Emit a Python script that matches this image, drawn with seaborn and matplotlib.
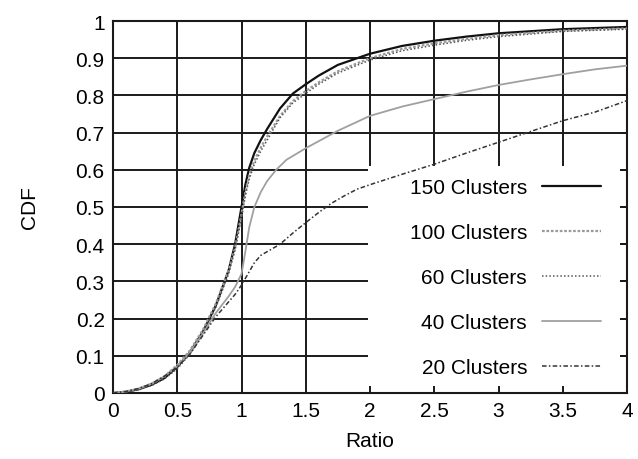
import numpy as np
import pandas as pd
import matplotlib
matplotlib.use("Agg")
import matplotlib.pyplot as plt
from matplotlib.patches import Rectangle
import seaborn as sns

# CDF curves of the ratio for different cluster counts
ratio_150 = [0, 0.1, 0.2, 0.3, 0.4, 0.5, 0.6, 0.7, 0.8, 0.9, 0.95, 1.0, 1.03, 1.06, 1.1, 1.15, 1.2, 1.3, 1.4, 1.5, 1.6, 1.75, 2.0, 2.25, 2.5, 2.75, 3.0, 3.5, 4.0]
cdf_150 = [0, 0.003, 0.01, 0.022, 0.04, 0.07, 0.11, 0.165, 0.235, 0.33, 0.40, 0.50, 0.56, 0.605, 0.645, 0.68, 0.71, 0.765, 0.805, 0.83, 0.853, 0.882, 0.912, 0.933, 0.947, 0.958, 0.967, 0.978, 0.984]

ratio_100 = [0, 0.1, 0.2, 0.3, 0.4, 0.5, 0.6, 0.7, 0.8, 0.9, 0.95, 1.0, 1.03, 1.06, 1.1, 1.15, 1.2, 1.3, 1.4, 1.5, 1.6, 1.75, 2.0, 2.25, 2.5, 2.75, 3.0, 3.5, 4.0]
cdf_100 = [0, 0.004, 0.012, 0.025, 0.045, 0.075, 0.115, 0.17, 0.24, 0.33, 0.39, 0.48, 0.54, 0.585, 0.625, 0.66, 0.69, 0.745, 0.785, 0.812, 0.835, 0.865, 0.90, 0.925, 0.94, 0.952, 0.962, 0.974, 0.98]

ratio_60 = [0, 0.1, 0.2, 0.3, 0.4, 0.5, 0.6, 0.7, 0.8, 0.9, 0.95, 1.0, 1.03, 1.06, 1.1, 1.15, 1.2, 1.3, 1.4, 1.5, 1.6, 1.75, 2.0, 2.25, 2.5, 2.75, 3.0, 3.5, 4.0]
cdf_60 = [0, 0.003, 0.01, 0.02, 0.038, 0.065, 0.105, 0.16, 0.23, 0.32, 0.385, 0.47, 0.53, 0.575, 0.615, 0.65, 0.68, 0.74, 0.78, 0.805, 0.83, 0.86, 0.895, 0.92, 0.935, 0.948, 0.958, 0.972, 0.978]

ratio_40 = [0, 0.1, 0.2, 0.3, 0.4, 0.5, 0.6, 0.7, 0.8, 0.9, 0.95, 1.0, 1.03, 1.06, 1.1, 1.15, 1.2, 1.27, 1.35, 1.5, 1.75, 2.0, 2.25, 2.5, 2.75, 3.0, 3.25, 3.5, 3.75, 4.0]
cdf_40 = [0, 0.004, 0.012, 0.025, 0.045, 0.072, 0.11, 0.16, 0.215, 0.26, 0.285, 0.32, 0.38, 0.445, 0.50, 0.54, 0.57, 0.60, 0.627, 0.658, 0.705, 0.745, 0.77, 0.79, 0.81, 0.828, 0.843, 0.857, 0.87, 0.88]

ratio_20 = [0, 0.1, 0.2, 0.3, 0.4, 0.5, 0.6, 0.7, 0.8, 0.9, 0.95, 1.0, 1.05, 1.1, 1.15, 1.25, 1.3, 1.4, 1.5, 1.6, 1.7, 1.8, 1.9, 2.0, 2.25, 2.5, 2.75, 3.0, 3.25, 3.5, 3.75, 4.0]
cdf_20 = [0, 0.004, 0.012, 0.025, 0.045, 0.07, 0.105, 0.155, 0.205, 0.245, 0.265, 0.29, 0.32, 0.35, 0.37, 0.39, 0.40, 0.43, 0.458, 0.485, 0.51, 0.53, 0.548, 0.56, 0.588, 0.615, 0.645, 0.674, 0.703, 0.732, 0.755, 0.786]

series_labels = ["150 Clusters", "100 Clusters", "60 Clusters", "40 Clusters", "20 Clusters"]
x_ticks = [0, 0.5, 1, 1.5, 2, 2.5, 3, 3.5, 4]
x_tick_labels = ["0", "0.5", "1", "1.5", "2", "2.5", "3", "3.5", "4"]
y_ticks = [0, 0.1, 0.2, 0.3, 0.4, 0.5, 0.6, 0.7, 0.8, 0.9, 1.0]
y_tick_labels = ["0", "0.1", "0.2", "0.3", "0.4", "0.5", "0.6", "0.7", "0.8", "0.9", "1"]

styles = {
    "150 Clusters": dict(color="#111111", linestyle="-", lw=1.6),
    "100 Clusters": dict(color="#9a9a9a", linestyle=(0, (1.2, 0.8)), lw=1.6),
    "60 Clusters": dict(color="#555555", linestyle=(0, (1, 1.4)), lw=1.1),
    "40 Clusters": dict(color="#a0a0a0", linestyle="-", lw=1.3),
    "20 Clusters": dict(color="#333333", linestyle=(0, (3, 1.5, 1, 1.5)), lw=1.1),
}

frames = []
for lab, xs, ys in zip(series_labels,
                       [ratio_150, ratio_100, ratio_60, ratio_40, ratio_20],
                       [cdf_150, cdf_100, cdf_60, cdf_40, cdf_20]):
    frames.append(pd.DataFrame({"Ratio": xs, "CDF": ys, "series": lab}))
df = pd.concat(frames, ignore_index=True)

sns.set_style("white")
plt.rcParams["font.family"] = ["Liberation Sans", "DejaVu Sans"]

fig = plt.figure(figsize=(6.38, 4.60), dpi=100)
ax = fig.add_axes([113 / 638, 66 / 460, 514 / 638, 372 / 460])

for lab in series_labels:
    sub = df[df["series"] == lab]
    sns.lineplot(data=sub, x="Ratio", y="CDF", ax=ax, label=lab,
                 estimator=None, sort=False, zorder=3, **styles[lab])

ax.set_xlim(0, 4)
ax.set_ylim(0, 1)
ax.set_xticks(x_ticks)
ax.set_xticklabels(x_tick_labels)
ax.set_yticks(y_ticks)
ax.set_yticklabels(y_tick_labels)

ax.set_axisbelow(True)
ax.grid(True, color="#1a1a1a", lw=1.4)
ax.tick_params(direction="in", length=5, width=1.4, colors="#1a1a1a",
               top=True, right=True, labelsize=15, labelcolor="black", pad=6)
for s in ax.spines.values():
    s.set_visible(True)
    s.set_color("#1a1a1a")
    s.set_linewidth(1.5)

# opaque key area in the lower right, leaving the tick stubs visible
tick_dx = 7 / 128.5
tick_dy = 7 / 372
ax.add_patch(Rectangle((1.985, tick_dy), 4 - tick_dx - 1.985, 0.61 - tick_dy,
                       facecolor="white", edgecolor="none", zorder=1))

ax.set_xlabel("Ratio", fontsize=15, labelpad=8, color="black")
ax.set_ylabel("CDF", fontsize=15, labelpad=26, color="black")

leg = ax.legend(loc="lower right", bbox_to_anchor=((601 - 113) / 514, (394 - 378) / 372),
                frameon=False, markerfirst=False, fontsize=15, borderpad=0,
                borderaxespad=0, handlelength=2.85, handletextpad=0.7,
                labelspacing=1.25)
leg.set_zorder(4)
for t in leg.get_texts():
    t.set_color("black")

fig.savefig("out.png", dpi=100)
